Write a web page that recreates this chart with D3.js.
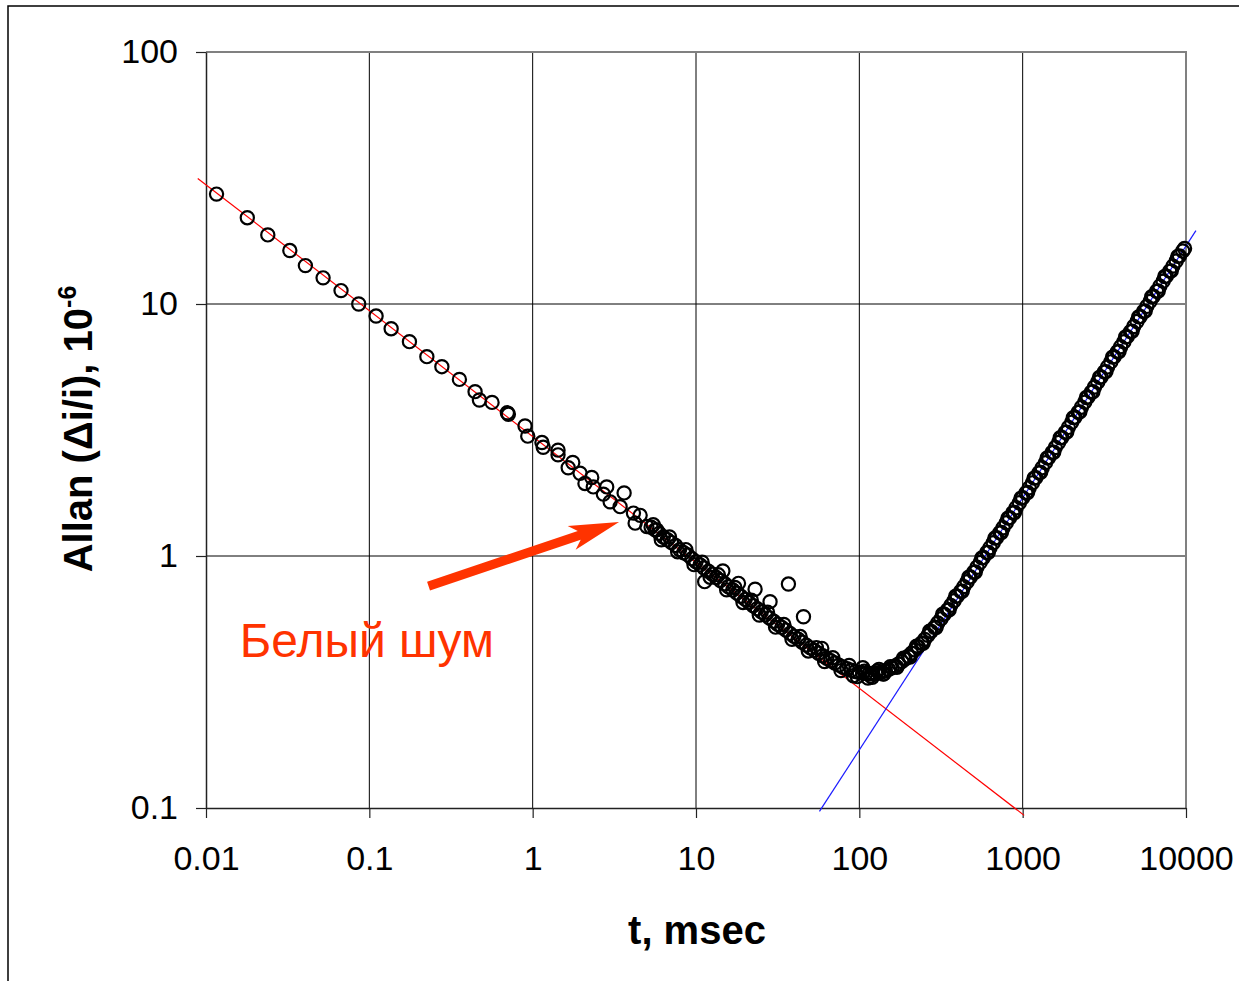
<!DOCTYPE html>
<html>
<head>
<meta charset="utf-8">
<script src="https://cdn.jsdelivr.net/npm/d3@7"></script>
<style>
  body { margin: 0; background: #fff; }
  svg { display: block; font-family: "Liberation Sans", Arial, sans-serif; }
</style>
</head>
<body>
<div id="chart"></div>
<script>
//
// Data (t in msec, Allan deviation in 1e-6)
//
const xTickValues = [0.01, 0.1, 1, 10, 100, 1000, 10000]
const xTickLabels = ['0.01', '0.1', '1', '10', '100', '1000', '10000']
const yTickValues = [0.1, 1, 10, 100]
const yTickLabels = ['0.1', '1', '10', '100']

// sparse points at short averaging times
const sparseT = [0.0116, 0.0179, 0.0239, 0.0326, 0.0406, 0.0521, 0.0671, 0.0861, 0.110, 0.136, 0.176,
  0.225, 0.278, 0.356, 0.444, 0.472, 0.564, 0.700, 0.710, 0.898, 0.933, 1.14, 1.16, 1.43, 1.43,
  1.76, 1.65, 1.95, 2.30, 2.09, 2.35, 2.84, 2.71, 3.63, 2.98, 3.43, 4.14, 4.55, 4.24, 5.00, 5.75]
const sparseY = [27.3, 22.0, 18.8, 16.3, 14.2, 12.7, 11.3, 10.0, 8.96, 7.98, 7.09,
  6.18, 5.64, 5.02, 4.49, 4.16, 4.07, 3.70, 3.65, 3.28, 2.99, 2.82, 2.70, 2.63, 2.52,
  2.35, 2.24, 2.13, 2.05, 1.94, 1.88, 1.88, 1.76, 1.78, 1.64, 1.57, 1.48, 1.45, 1.35, 1.31, 1.27]

// dense band, falling part
const fallT = [5.31, 5.62, 5.96, 6.31, 6.68, 7.08, 7.50, 7.94, 8.41, 8.91, 9.44, 10.0, 10.6, 11.2, 11.9,
  12.6, 13.3, 14.1, 15.0, 15.8, 16.8, 17.8, 18.8, 20.0, 21.1, 22.4, 23.7, 25.1, 26.6, 28.2, 29.9,
  31.6, 33.5, 35.5, 37.6, 39.8, 42.2, 44.7, 47.3, 50.1, 53.1, 56.2, 59.6, 63.1, 66.8, 70.8, 75.0,
  79.4, 84.1, 89.1, 94.4, 100]
const fallY = [1.30, 1.27, 1.23, 1.19, 1.16, 1.13, 1.10, 1.06, 1.03, 1.01, 0.976, 0.949, 0.922, 0.896, 0.870,
  0.846, 0.822, 0.799, 0.776, 0.755, 0.733, 0.712, 0.692, 0.673, 0.654, 0.635, 0.618, 0.600, 0.584, 0.567, 0.551,
  0.536, 0.521, 0.508, 0.493, 0.480, 0.468, 0.455, 0.443, 0.432, 0.422, 0.411, 0.402, 0.393, 0.384, 0.376, 0.369,
  0.362, 0.357, 0.352, 0.348, 0.345]

// scatter around the falling band
const scatterT = [5.47, 6.13, 6.88, 7.72, 8.66, 9.72, 10.9, 12.2, 13.7, 15.4, 17.3, 19.4, 21.8, 24.4,
  27.4, 30.7, 34.5, 38.7, 43.4, 48.7, 54.6, 61.3, 68.8, 77.2, 86.6, 97.2, 92, 105, 113, 120, 132, 140]
const scatterY = [1.33, 1.16, 1.19, 1.04, 1.06, 0.924, 0.945, 0.824, 0.842, 0.734, 0.750, 0.654, 0.668, 0.583,
  0.598, 0.522, 0.535, 0.467, 0.479, 0.420, 0.433, 0.381, 0.395, 0.351, 0.368, 0.332, 0.335, 0.360, 0.328, 0.330, 0.355, 0.340]

// outliers above the band
const outlierT = [11.3, 14.6, 18.2, 23.0, 28.4, 36.8, 45.5, 58.9]
const outlierY = [0.791, 0.872, 0.779, 0.738, 0.659, 0.774, 0.574, 0.430]

// dense band, rising part
const riseT = [104.7, 109.6, 114.8, 120.2, 125.9, 131.8, 138.0, 144.5, 151.4, 158.5, 166.0, 173.8, 182.0,
  190.5, 199.5, 208.9, 218.8, 229.1, 239.9, 251.2, 263.0, 275.4, 288.4, 302.0, 316.2, 331.1, 346.7, 363.1,
  380.2, 398.1, 416.9, 436.5, 457.1, 478.6, 501.2, 524.8, 549.5, 575.4, 602.6, 631.0, 660.7, 691.8, 724.4,
  758.6, 794.3, 831.8, 871.0, 912.0, 955.0, 1000, 1047, 1096, 1148, 1202, 1259, 1318, 1380, 1445, 1514,
  1585, 1660, 1738, 1820, 1905, 1995, 2089, 2188, 2291, 2399, 2512, 2630, 2754, 2884, 3020, 3162, 3311,
  3467, 3631, 3802, 3981, 4169, 4365, 4571, 4786, 5012, 5248, 5495, 5754, 6026, 6310, 6607, 6918, 7244,
  7586, 7943, 8318, 8710, 9120, 9550, 9800]
const riseY = [0.343, 0.342, 0.341, 0.342, 0.342, 0.344, 0.347, 0.350, 0.355, 0.360, 0.366, 0.373, 0.381,
  0.390, 0.400, 0.411, 0.424, 0.437, 0.451, 0.467, 0.484, 0.502, 0.521, 0.542, 0.563, 0.587, 0.611, 0.637,
  0.664, 0.693, 0.724, 0.756, 0.790, 0.825, 0.862, 0.902, 0.943, 0.986, 1.032, 1.079, 1.129, 1.182, 1.237,
  1.294, 1.355, 1.418, 1.484, 1.554, 1.626, 1.703, 1.780, 1.864, 1.951, 2.044, 2.140, 2.241, 2.346, 2.457, 2.573,
  2.694, 2.822, 2.954, 3.094, 3.239, 3.392, 3.552, 3.719, 3.894, 4.078, 4.270, 4.471, 4.682, 4.903, 5.134, 5.376, 5.629,
  5.894, 6.172, 6.463, 6.768, 7.087, 7.421, 7.771, 8.137, 8.520, 8.922, 9.342, 9.782, 10.24, 10.73, 11.23, 11.76, 12.32,
  12.90, 13.50, 14.14, 14.81, 15.50, 16.24, 16.6]

// scatter around the rising band
const riseScatterT = [107.2, 117.5, 128.8, 141.3, 154.9, 169.8, 186.2, 204.2, 223.9, 245.5, 269.2, 295.1,
  323.6, 354.8, 389.0, 426.6, 467.7, 512.9, 562.3, 616.6, 676.1, 741.3, 812.8, 891.3, 977.2, 1072, 1175,
  1288, 1413, 1549, 1698, 1862, 2042, 2239, 2455, 2692, 2951, 3236, 3548, 3890, 4266, 4677, 5129, 5623,
  6166, 6761, 7413, 8128, 8913]
const riseScatterY = [0.349, 0.334, 0.350, 0.341, 0.364, 0.362, 0.393, 0.397, 0.439, 0.450, 0.503, 0.520,
  0.587, 0.612, 0.692, 0.725, 0.823, 0.864, 0.983, 1.034, 1.178, 1.240, 1.414, 1.489, 1.697, 1.786, 2.038,
  2.146, 2.450, 2.580, 2.945, 3.102, 3.540, 3.730, 4.257, 4.484, 5.117, 5.391, 6.153, 6.481, 7.397, 7.792, 8.893, 9.368,
  10.69, 11.26, 12.85, 13.54, 15.45]

// fitted asymptotes: white noise (red) and drift (blue)
const whiteNoiseT = [0.0089, 1021]
const whiteNoiseY = [31.5, 0.0935]
const driftT = [57, 11500]
const driftY = [0.0969, 19.55]

// annotation
const arrowT = [0.2304, 3.38]
const arrowY = [0.760, 1.364]
const labelT = 0.0161
const labelY = 0.397
const labelText = 'Белый шум'

function zip (ts, ys) { return ts.map((t, i) => ({ t: t, v: ys[i] })) }

const width = 1239
const height = 981
const svg = d3.select('#chart').append('svg')
  .attr('width', width).attr('height', height)

svg.append('rect').attr('width', width).attr('height', height).attr('fill', '#fff')
// outer chart frame (runs off the right and bottom of the picture)
svg.append('rect').attr('x', 8).attr('y', 6).attr('width', 1400).attr('height', 1200)
  .attr('fill', 'none').attr('stroke', '#000').attr('stroke-width', 1.5)

const x = d3.scaleLog().domain([0.01, 10000]).range([206, 1186])
const y = d3.scaleLog().domain([0.1, 100]).range([808, 52])

// gridlines
const grid = svg.append('g')
grid.selectAll('line.v').data(xTickValues.slice(1, -1)).enter().append('line')
  .attr('x1', d => x(d)).attr('x2', d => x(d)).attr('y1', y(100)).attr('y2', y(0.1))
  .attr('stroke', '#000').attr('stroke-width', 1)
grid.selectAll('line.h').data(yTickValues.slice(1, -1)).enter().append('line')
  .attr('x1', x(0.01)).attr('x2', x(10000)).attr('y1', d => y(d)).attr('y2', d => y(d))
  .attr('stroke', '#000').attr('stroke-width', 1)

// plot area border (grey top/right)
svg.append('path')
  .attr('d', `M${x(0.01)},${y(100)}H${x(10000)}V${y(0.1)}`)
  .attr('fill', 'none').attr('stroke', '#808080').attr('stroke-width', 2)

// axes
const xAxis = d3.axisBottom(x).tickValues(xTickValues)
  .tickFormat((d, i) => xTickLabels[i]).tickSizeInner(10).tickSizeOuter(0).tickPadding(28)
const yAxis = d3.axisLeft(y).tickValues(yTickValues)
  .tickFormat((d, i) => yTickLabels[i]).tickSizeInner(10).tickSizeOuter(0).tickPadding(18)

const gx = svg.append('g').attr('transform', `translate(0,${y(0.1)})`).call(xAxis)
const gy = svg.append('g').attr('transform', `translate(${x(0.01)},0)`).call(yAxis)
;[gx, gy].forEach(g => {
  g.select('.domain').attr('stroke', '#222').attr('stroke-width', 1.5)
  g.selectAll('.tick line').attr('stroke', '#222').attr('stroke-width', 1.2)
  g.selectAll('.tick text').attr('fill', '#000')
    .style('font-family', '"Liberation Sans", Arial, sans-serif').style('font-size', '34px')
})

// fit lines
const line = d3.line().x(d => x(d.t)).y(d => y(d.v))
svg.append('path').datum(zip(whiteNoiseT, whiteNoiseY)).attr('d', line)
  .attr('fill', 'none').attr('stroke', '#ff0000').attr('stroke-width', 1.2)
svg.append('path').datum(zip(driftT, driftY)).attr('d', line)
  .attr('fill', 'none').attr('stroke', '#1a1aff').attr('stroke-width', 1.2)

// measured points
const points = [].concat(
  zip(sparseT, sparseY), zip(fallT, fallY), zip(scatterT, scatterY),
  zip(outlierT, outlierY), zip(riseT, riseY), zip(riseScatterT, riseScatterY))
svg.append('g').selectAll('circle').data(points).enter().append('circle')
  .attr('cx', d => x(d.t)).attr('cy', d => y(d.v)).attr('r', 6.6)
  .attr('fill', 'none').attr('stroke', '#000').attr('stroke-width', 2.2)

// annotation arrow
const ax0 = x(arrowT[0]); const ay0 = y(arrowY[0])
const ax1 = x(arrowT[1]); const ay1 = y(arrowY[1])
const len = Math.hypot(ax1 - ax0, ay1 - ay0)
const ang = Math.atan2(ay1 - ay0, ax1 - ax0) * 180 / Math.PI
const head = 50
svg.append('path')
  .attr('transform', `translate(${ax0},${ay0}) rotate(${ang})`)
  .attr('d', `M0,-4.6 L${len - head + 8},-4.6 L${len - head},-12.5 L${len},0 L${len - head},12.5 L${len - head + 8},4.6 L0,4.6 Z`)
  .attr('fill', '#ff3300')

svg.append('text').attr('x', x(labelT)).attr('y', y(labelY))
  .attr('fill', '#ff3300').style('font-size', '48px').text(labelText)

// axis titles
svg.append('text').attr('x', 697).attr('y', 944).attr('text-anchor', 'middle')
  .style('font-size', '40px').style('font-weight', 'bold').text('t, msec')

const yt = svg.append('text').attr('transform', 'translate(92,429) rotate(-90)')
  .attr('text-anchor', 'middle').style('font-size', '40px').style('font-weight', 'bold')
yt.append('tspan').text('Allan (Δi/i), 10')
yt.append('tspan').attr('dy', -16).style('font-size', '25px').text('-6')
</script>
</body>
</html>
